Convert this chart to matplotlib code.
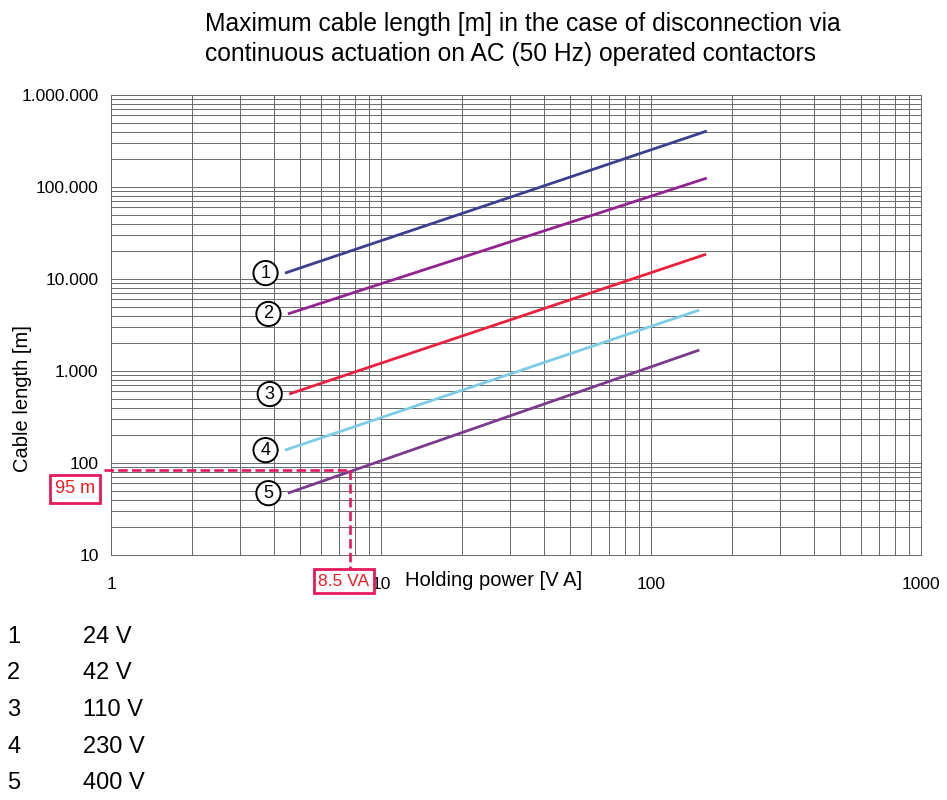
import matplotlib
matplotlib.use("Agg")
import matplotlib.pyplot as plt
from matplotlib.ticker import LogLocator, NullFormatter, FixedLocator, FixedFormatter

plt.rcParams['font.family'] = ['Liberation Sans', 'DejaVu Sans']

# ---- data ----
series_ids = ["1", "2", "3", "4", "5"]
series_voltage = ["24 V", "42 V", "110 V", "230 V", "400 V"]
x_start = [4.41, 4.52, 4.57, 4.41, 4.52]
x_end = [161, 161, 160, 151, 151]
y_start = [11600, 4170, 562, 138, 47]
y_end = [406000, 125000, 18600, 4600, 1690]
series_colors = ["#3b3f8f", "#93238e", "#e8213f", "#7ecbe6", "#7b3a8d"]

example_x = 7.7     # read position of the dashed marker
example_y = 84
example_x_label = "8.5 VA"
example_y_label = "95 m"

x_ticks = [1, 10, 100, 1000]
x_tick_labels = ["1", "10", "100", "1000"]
y_ticks = [10, 100, 1000, 10000, 100000, 1000000]
y_tick_labels = ["10", "100", "1.000", "10.000", "100.000", "1.000.000"]

title = ("Maximum cable length [m] in the case of disconnection via\n"
         "continuous actuation on AC (50 Hz) operated contactors")
x_label = "Holding power [V A]"
y_label = "Cable length [m]"

W, H = 947, 800
fig = plt.figure(figsize=(W / 100, H / 100), dpi=100)
L, R, T, B = 111, 921, 95, 555
ax = fig.add_axes([L / W, 1 - B / H, (R - L) / W, (B - T) / H])
ax.set_xscale('log')
ax.set_yscale('log')
ax.set_xlim(1, 1000)
ax.set_ylim(10, 1000000)

grid_col = '#6a6a6a'
ax.xaxis.set_major_locator(FixedLocator(x_ticks))
ax.xaxis.set_major_formatter(FixedFormatter(x_tick_labels))
ax.yaxis.set_major_locator(FixedLocator(y_ticks))
ax.yaxis.set_major_formatter(FixedFormatter(y_tick_labels))
ax.xaxis.set_minor_locator(LogLocator(base=10, subs=range(2, 10), numticks=50))
ax.yaxis.set_minor_locator(LogLocator(base=10, subs=range(2, 10), numticks=50))
ax.xaxis.set_minor_formatter(NullFormatter())
ax.yaxis.set_minor_formatter(NullFormatter())
ax.grid(True, which='both', color=grid_col, linewidth=0.7)
ax.tick_params(which='both', length=0)
ax.tick_params(axis='y', labelsize=12.5, pad=9)
ax.tick_params(axis='x', labelsize=12.5, pad=16)
for s in ax.spines.values():
    s.set_color(grid_col)
    s.set_linewidth(0.7)
ax.set_axisbelow(True)

for sid, x0, x1, y0, y1, c in zip(series_ids, x_start, x_end, y_start, y_end, series_colors):
    ax.plot([x0, x1], [y0, y1], color=c, lw=2.0, solid_capstyle='butt', zorder=3)
    ax.annotate(sid, xy=(x0, y0), xytext=(-14, 0), textcoords='offset points',
                ha='center', va='center', fontsize=13,
                bbox=dict(boxstyle='circle,pad=0.2', fc='white', ec='black', lw=1.4),
                zorder=4)

red = '#e6195a'
ax.plot([0.94, example_x], [example_y, example_y], color=red, lw=1.9,
        dashes=(3.6, 1.6), clip_on=False, zorder=5)
ax.plot([example_x, example_x], [example_y, 10 ** 0.85], color=red, lw=1.9,
        dashes=(3.6, 1.6), clip_on=False, zorder=5)

def px(x, y):
    return x / W, 1 - y / H

fig.text(*px(75, 489), example_y_label, ha='center', va='center', fontsize=13,
         color='#ee1c25',
         bbox=dict(boxstyle='square,pad=0.3', fc='white', ec=red, lw=2))
fig.text(*px(344, 581), example_x_label, ha='center', va='center', fontsize=12.5,
         color='#ee1c25',
         bbox=dict(boxstyle='square,pad=0.25', fc='white', ec=red, lw=2))

fig.text(*px(494, 580), x_label, ha='center', va='center', fontsize=14.5)
fig.text(*px(22, 399), y_label, ha='center', va='center', rotation=90, fontsize=14.5)
fig.text(*px(205, 12), title, ha='left', va='top', fontsize=17.7, linespacing=1.31)

leg_y = [637, 673, 710, 747, 783]
for sid, v, yy in zip(series_ids, series_voltage, leg_y):
    fig.text(*px(7, yy), sid, ha='left', va='center', fontsize=17)
    fig.text(*px(83, yy), v, ha='left', va='center', fontsize=17)

fig.savefig('out.png', dpi=100)
